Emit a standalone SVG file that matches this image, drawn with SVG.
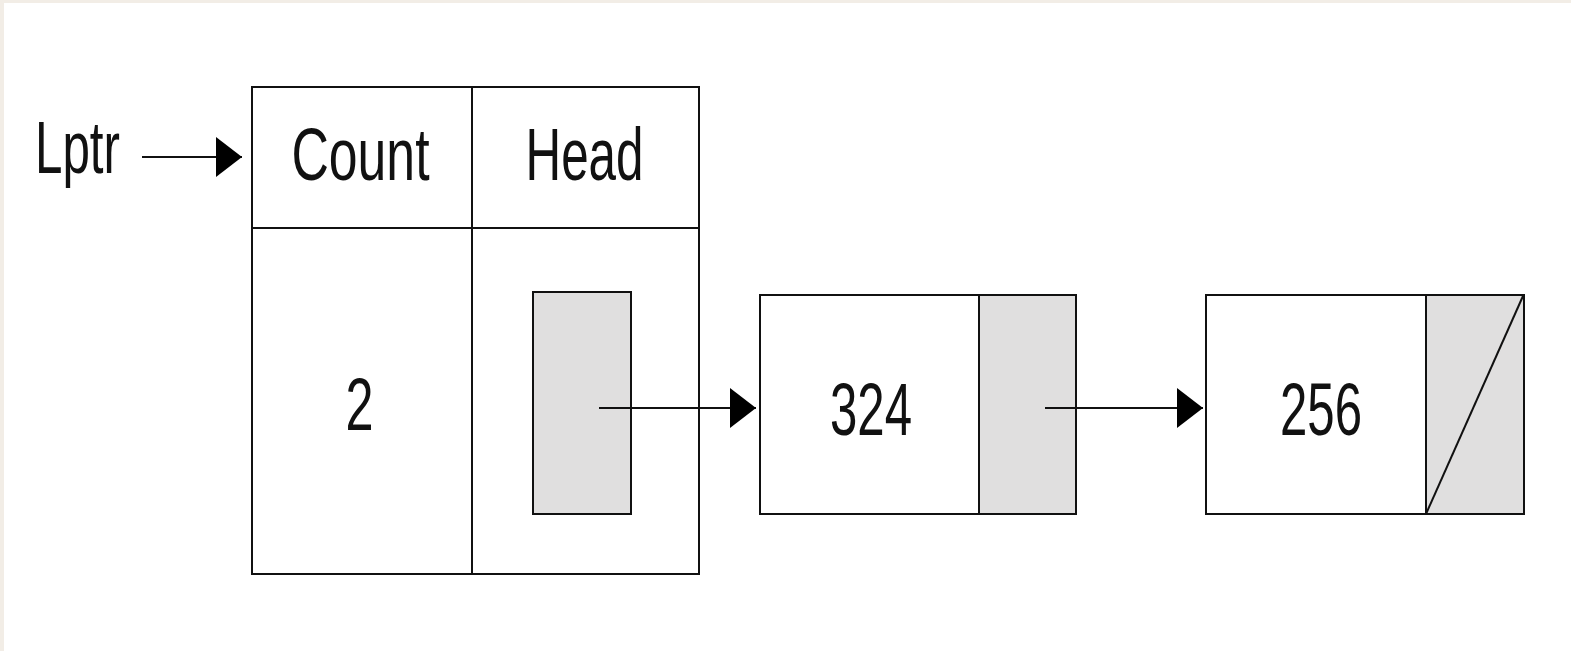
<svg xmlns="http://www.w3.org/2000/svg" width="1571" height="651" viewBox="0 0 1571 651">
<style>
.box{fill:none;stroke:#111;stroke-width:2}
.ptr{fill:#e0dfdf;stroke:#111;stroke-width:2}
.lbl{font-family:"Liberation Sans",Arial,sans-serif;font-size:74px;fill:#111}
.edge{stroke:#111;stroke-width:2;fill:none}
</style>
<defs>
<marker id="ah" markerWidth="26" markerHeight="40" refX="26" refY="20" markerUnits="userSpaceOnUse" orient="auto">
<path d="M0,0 L26,20 L0,40 Z" fill="#000"/>
</marker>
</defs>
<rect x="0" y="0" width="1571" height="651" fill="#ffffff"/>
<rect x="0" y="0" width="1571" height="3" fill="#f2ede6"/>
<rect x="0" y="0" width="4" height="651" fill="#f2ede6"/>
<g id="lptr">
<text class="lbl" x="35" y="173" font-size="70" textLength="85" lengthAdjust="spacingAndGlyphs">Lptr</text>
</g>
<g id="header">
<rect class="box" x="252" y="87" width="447" height="487"/>
<line class="box" x1="472" y1="87" x2="472" y2="574"/>
<line class="box" x1="252" y1="228" x2="699" y2="228"/>
<text class="lbl" x="360.5" y="180" text-anchor="middle" textLength="138" lengthAdjust="spacingAndGlyphs">Count</text>
<text class="lbl" x="584.5" y="180" text-anchor="middle" textLength="118" lengthAdjust="spacingAndGlyphs">Head</text>
<text class="lbl" x="359.5" y="430" text-anchor="middle" textLength="28" lengthAdjust="spacingAndGlyphs">2</text>
<rect class="ptr" x="533" y="292" width="98" height="222"/>
</g>
<g id="node324">
<rect class="ptr" x="979" y="295" width="97" height="219"/>
<rect class="box" x="760" y="295" width="316" height="219"/>
<text class="lbl" x="871" y="435" text-anchor="middle" textLength="82" lengthAdjust="spacingAndGlyphs">324</text>
</g>
<g id="node256">
<rect class="ptr" x="1426" y="295" width="98" height="219"/>
<rect class="box" x="1206" y="295" width="318" height="219"/>
<line class="edge" x1="1426" y1="514" x2="1523" y2="296"/>
<text class="lbl" x="1321" y="435" text-anchor="middle" textLength="82" lengthAdjust="spacingAndGlyphs">256</text>
</g>
<g id="connectors">
<line class="edge" x1="142" y1="157" x2="242" y2="157" marker-end="url(#ah)"/>
<line class="edge" x1="599" y1="408" x2="756" y2="408" marker-end="url(#ah)"/>
<line class="edge" x1="1045" y1="408" x2="1203" y2="408" marker-end="url(#ah)"/>
</g>
</svg>
